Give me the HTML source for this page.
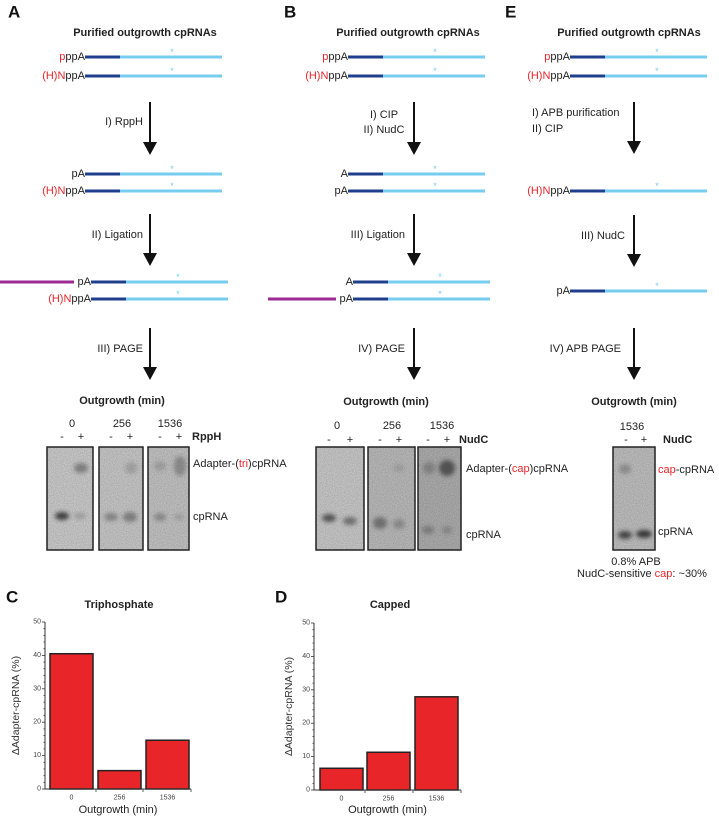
<!DOCTYPE html>
<html><head><meta charset="utf-8"><style>
html,body{margin:0;padding:0;background:#fff}
svg{display:block;font-family:"Liberation Sans",Arial,sans-serif}
</style></head><body>
<svg id="fig" width="719" height="816" viewBox="0 0 719 816" xmlns="http://www.w3.org/2000/svg">
<defs>
<filter id="blur" x="-50%" y="-50%" width="200%" height="200%"><feGaussianBlur stdDeviation="2.2"/></filter>
<filter id="noise" x="0" y="0" width="100%" height="100%"><feTurbulence type="fractalNoise" baseFrequency="0.9" numOctaves="2" seed="3"/><feColorMatrix type="matrix" values="0 0 0 0 0  0 0 0 0 0  0 0 0 0 0  0 0 0 0.25 0"/><feComposite in2="SourceGraphic" operator="in"/></filter>
</defs>
<g id="diagram"></g>
<g id="gels"></g>
<g id="chartC"></g>
<g id="chartD"></g>
</svg>
<script>
const categories = ["0", "256", "1536"];
const triphosphateValues = [40.5, 5.5, 14.6];
const cappedValues = [6.5, 11.3, 27.9];
const yTicks = [0, 10, 20, 30, 40, 50];

const NS = "http://www.w3.org/2000/svg";
function mk(parent, tag, attrs, text) {
  const e = document.createElementNS(NS, tag);
  for (const k in attrs) e.setAttribute(k, attrs[k]);
  if (text !== undefined) e.textContent = text;
  parent.appendChild(e);
  return e;
}
function txt(parent, x, y, s, opts) {
  opts = opts || {};
  const t = mk(parent, "text", {x: x, y: y, "font-size": opts.size || 11, "text-anchor": opts.anchor || "start", "dominant-baseline": "central", fill: opts.fill || "#222", "font-weight": opts.bold ? "bold" : "normal"});
  if (opts.parts) {
    opts.parts.forEach(p => { mk(t, "tspan", {fill: p[1] || "#222"}, p[0]); });
  } else t.textContent = s;
  
  
  return t;
}
const D = document.getElementById("diagram");
const RED = "#e8262a";
function rna(textEnd, y, parts, shift, name) {
  const g = mk(D, "g", {});
  
  
  txt(g, textEnd, y, "", {anchor: "end", parts: parts, name: name + "-label"});
  mk(g, "line", {x1: textEnd, y1: y, x2: textEnd + 35, y2: y, stroke: "#1f3f8c", "stroke-width": 3});
  mk(g, "line", {x1: textEnd + 35, y1: y, x2: textEnd + 137, y2: y, stroke: "#77cdef", "stroke-width": 3});
  txt(g, textEnd + 87, y - 5, "*", {anchor: "middle", size: 9, fill: "#77cdef", name: "asterisk"});
}
function magenta(x1, x2, y) {
  const l = mk(D, "line", {x1: x1, y1: y, x2: x2, y2: y, stroke: "#9b2a93", "stroke-width": 3});
  
  
}
function arrow(x, y1, y2) {
  const g = mk(D, "g", {});
  
  
  mk(g, "line", {x1: x, y1: y1, x2: x, y2: y2 - 10, stroke: "#111", "stroke-width": 2});
  mk(g, "polygon", {points: `${x-7},${y2-13} ${x+7},${y2-13} ${x},${y2}`, fill: "#111"});
}
const B = [["p", RED], ["ppA"]], HN = [["(H)N", RED], ["ppA"]];
txt(D, 8, 12, "A", {size: 17, bold: true, fill: "#111", name: "panel-a-letter"});
txt(D, 284, 12, "B", {size: 17, bold: true, fill: "#111", name: "panel-b-letter"});
txt(D, 505, 12, "E", {size: 17, bold: true, fill: "#111", name: "panel-e-letter"});
// Panel A
txt(D, 145, 33, "Purified outgrowth cpRNAs", {anchor: "middle", bold: true, name: "panel-a-title"});
rna(85, 57, B, 0, "ppp-rna"); rna(85, 76, HN, 0, "capped-rna");
arrow(150, 102, 155); txt(D, 143, 122, "I) RppH", {anchor: "end", name: "step-rpph"});
rna(85, 174, [["pA"]], 0, "p-rna"); rna(85, 191, HN, 0, "capped-rna");
arrow(150, 214, 266); txt(D, 143, 235, "II) Ligation", {anchor: "end", name: "step-ligation"});
magenta(0, 74, 282);
rna(91, 282, [["pA"]], 0, "ligated-rna"); rna(91, 299, HN, 0, "capped-rna");
arrow(150, 328, 380); txt(D, 143, 349, "III) PAGE", {anchor: "end", name: "step-page"});
// Panel B
txt(D, 408, 33, "Purified outgrowth cpRNAs", {anchor: "middle", bold: true, name: "panel-b-title"});
rna(348, 57, B, 0, "ppp-rna"); rna(348, 76, HN, 0, "capped-rna");
arrow(414, 102, 155); txt(D, 384, 115, "I) CIP", {anchor: "middle", name: "step-cip"}); txt(D, 384, 130, "II) NudC", {anchor: "middle", name: "step-nudc"});
rna(348, 174, [["A"]], 0, "a-rna"); rna(348, 191, [["pA"]], 0, "p-rna");
arrow(414, 214, 266); txt(D, 405, 235, "III) Ligation", {anchor: "end", name: "step-ligation"});
rna(353, 282, [["A"]], 0, "a-rna"); magenta(268, 336, 299); rna(353, 299, [["pA"]], 0, "ligated-rna");
arrow(414, 328, 380); txt(D, 405, 349, "IV) PAGE", {anchor: "end", name: "step-page"});
// Panel E
txt(D, 629, 33, "Purified outgrowth cpRNAs", {anchor: "middle", bold: true, name: "panel-e-title"});
rna(570, 57, B, 0, "ppp-rna"); rna(570, 76, HN, 0, "capped-rna");
arrow(634, 102, 154); txt(D, 532, 113, "I) APB purification", {name: "step-apb"}); txt(D, 532, 129, "II) CIP", {name: "step-cip"});
rna(570, 191, HN, 0, "capped-rna");
arrow(634, 215, 267); txt(D, 625, 236, "III) NudC", {anchor: "end", name: "step-nudc"});
rna(570, 291, [["pA"]], 0, "p-rna");
arrow(634, 328, 380); txt(D, 621, 349, "IV) APB PAGE", {anchor: "end", name: "step-apb-page"});

// Gels
const G = document.getElementById("gels");
txt(G, 122, 401, "Outgrowth (min)", {anchor: "middle", bold: true, name: "gel-a-title"});
txt(G, 386, 402, "Outgrowth (min)", {anchor: "middle", bold: true, name: "gel-b-title"});
txt(G, 634, 402, "Outgrowth (min)", {anchor: "middle", bold: true, name: "gel-e-title"});
function gel(x1, x2, shade, bands, name) {
  const g = mk(G, "g", {});
  
  
  mk(g, "rect", {x: x1, y: 447, width: x2 - x1, height: 103, fill: shade});
  mk(g, "rect", {x: x1, y: 447, width: x2 - x1, height: 103, fill: "#000", filter: "url(#noise)"});
  bands.forEach(b => mk(g, "ellipse", {cx: b[0], cy: b[1], rx: b[2], ry: b[3], fill: "#333", opacity: b[4], filter: "url(#blur)"}));
  mk(g, "rect", {x: x1, y: 447, width: x2 - x1, height: 103, fill: "none", stroke: "#222", "stroke-width": 1.5});
}
gel(47, 93, "#d6d6d6", [[62,516,7,4,0.9],[80,516,6,3,0.25],[81,468,7,5,0.45]], "gel-a-0");
gel(99, 143, "#d2d2d2", [[111,517,7,4,0.4],[130,517,7,5,0.45],[131,468,6,6,0.2]], "gel-a-256");
gel(148, 189, "#cdcdcd", [[160,517,6,4,0.35],[179,517,5,3,0.2],[160,466,6,5,0.2],[180,466,6,10,0.35]], "gel-a-1536");
gel(316, 364, "#d3d3d3", [[329,518,7,4,0.75],[350,521,7,4,0.55]], "gel-b-0");
gel(368, 415, "#c4c4c4", [[380,523,7,6,0.5],[399,524,6,5,0.3],[399,468,5,4,0.15]], "gel-b-256");
gel(418, 461, "#b6b6b6", [[428,530,6,4,0.35],[447,530,5,4,0.25],[429,468,6,6,0.3],[447,468,8,8,0.7]], "gel-b-1536");
gel(613, 655, "#c9c9c9", [[625,535,7,4,0.85],[644,534,8,4,0.95],[625,469,6,5,0.3]], "gel-e-1536");
function laneLabels(nums, pm, y1, y2) {
  nums.forEach(n => txt(G, n[0], y1, n[1], {anchor: "middle", name: "lane-time"}));
  pm.forEach((x, i) => txt(G, x, y2, i % 2 ? "+" : "-", {anchor: "middle", name: "lane-sign"}));
}
laneLabels([[72,"0"],[122,"256"],[170,"1536"]], [62,81,111,130,160,179], 424, 437);
txt(G, 192, 437, "RppH", {bold: true, name: "enzyme-rpph"});
laneLabels([[337,"0"],[392,"256"],[442,"1536"]], [329,350,380,399,428,447], 426, 440);
txt(G, 459, 440, "NudC", {bold: true, name: "enzyme-nudc"});
laneLabels([[632,"1536"]], [626,644], 427, 440);
txt(G, 663, 440, "NudC", {bold: true, name: "enzyme-nudc"});
txt(G, 193, 464, "", {parts: [["Adapter-("],["tri",RED],[")cpRNA"]], name: "band-adapter-tri"});
txt(G, 193, 517, "cpRNA", {name: "band-cprna"});
txt(G, 466, 469, "", {parts: [["Adapter-("],["cap",RED],[")cpRNA"]], name: "band-adapter-cap"});
txt(G, 466, 535, "cpRNA", {name: "band-cprna"});
txt(G, 658, 470, "", {parts: [["cap",RED],["-cpRNA"]], name: "band-cap-cprna"});
txt(G, 658, 532, "cpRNA", {name: "band-cprna"});
txt(G, 636, 562, "0.8% APB", {anchor: "middle", name: "apb-note"});
txt(G, 642, 574, "", {anchor: "middle", parts: [["NudC-sensitive "],["cap",RED],[": ~30%"]], name: "nudc-sensitive-note"});

// Charts
function chart(gid, letter, lx, title, tx, axisX, y0, y50, barLefts, values, barW, ylabX, tickXs) {
  const g = document.getElementById(gid);
  const yScale = v => y0 + (y50 - y0) * v / 50;
  txt(g, lx, 597, letter, {size: 17, bold: true, fill: "#111", name: "panel-letter"});
  txt(g, tx, 605, title, {anchor: "middle", bold: true, name: "chart-title"});
  const ax = mk(g, "line", {x1: axisX, y1: yScale(50), x2: axisX, y2: y0, stroke: "#333", "stroke-width": 1});
  
  
  for (let v = 0; v <= 50; v += 2) {
    const major = v % 10 === 0;
    mk(g, "line", {x1: axisX - (major ? 3 : 1.5), y1: yScale(v), x2: axisX, y2: yScale(v), stroke: "#333", "stroke-width": 0.8});
  }
  yTicks.forEach(v => txt(g, axisX - 4, yScale(v), String(v), {anchor: "end", size: 7, fill: "#444", name: "y-tick-label"}));
  values.forEach((v, i) => {
    const r = mk(g, "rect", {x: barLefts[i], y: yScale(v), width: barW, height: y0 - yScale(v), fill: "#e8262a", stroke: "#222", "stroke-width": 1.5});
    
    
  });
  const xa = mk(g, "line", {x1: axisX, y1: y0, x2: tickXs[2], y2: y0, stroke: "#333", "stroke-width": 1});
  
  
  tickXs.forEach(x => mk(g, "line", {x1: x, y1: y0, x2: x, y2: y0 + 3, stroke: "#333", "stroke-width": 0.8}));
  categories.forEach((c, i) => txt(g, barLefts[i] + barW / 2, y0 + 9, c, {anchor: "middle", size: 7, fill: "#444", name: "x-tick-label"}));
  txt(g, (axisX + tickXs[2]) / 2, 810, "Outgrowth (min)", {anchor: "middle", size: 11, name: "x-axis-title"});
  const yl = txt(g, 0, 0, "\u0394Adapter-cpRNA (%)", {anchor: "middle", size: 10.5, fill: "#333", name: "y-axis-title"});
  yl.setAttribute("transform", `translate(${ylabX},${(y0 + yScale(50)) / 2}) rotate(-90)`);
}
chart("chartC", "C", 6, "Triphosphate", 119, 45, 789, 622, [50, 98, 146], triphosphateValues, 43, 16, [96, 143, 191]);
chart("chartD", "D", 275, "Capped", 390, 314, 790, 623, [320, 367, 415], cappedValues, 43, 289, [365, 413, 461]);
</script>
</body></html>
